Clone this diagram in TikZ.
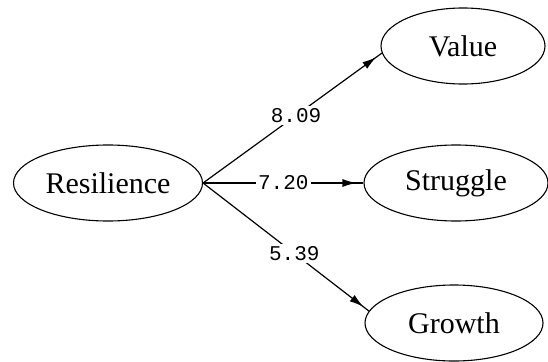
\documentclass[tikz,border=0pt]{standalone}
\usepackage{fontspec}
\setmainfont{Liberation Serif}
\setmonofont{Liberation Mono}
\usetikzlibrary{arrows.meta, decorations.markings, shapes.geometric}

\begin{document}
\begin{tikzpicture}[x=1pt, y=-1pt, line width=1.2pt,
    every node/.style={align=center},
    concept/.style={draw, ellipse, line width=1.1pt, minimum height=76pt, inner sep=0pt, font=\fontsize{30}{32}\selectfont},
    weight/.style={fill=white, inner sep=2.5pt, font=\fontsize{21}{22}\selectfont\ttfamily},
    tipedge/.style={decoration={markings, mark=at position -7pt with {\arrow{Latex[length=14pt, width=8pt]}}}, postaction={decorate}}]
  \useasboundingbox (0,0) rectangle (548,361);
  \node[concept, minimum width=189pt] (res) at (108,183) {Resilience};
  \node[concept, minimum width=164pt] (val) at (463,46) {Value};
  \node[concept, minimum width=184pt] (str) at (456,183) {Struggle};
  \node[concept, minimum width=178pt] (gro) at (454,323) {Growth};
  \draw[tipedge] (res.east) -- node[weight, pos=0.52] {8.09} (val.185);
  \draw[tipedge] (res.east) -- node[weight] {7.20} (str.west);
  \draw[tipedge] (res.east) -- node[weight, pos=0.55] {5.39} (gro.172);
\end{tikzpicture}
\end{document}
